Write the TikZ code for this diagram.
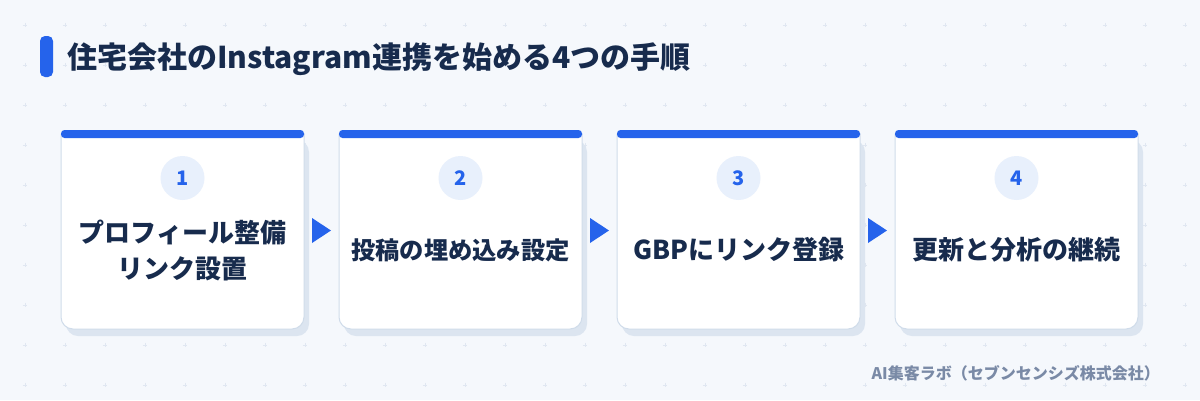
\documentclass[tikz,border=0pt]{standalone}
\usepackage{fontspec}
\setmainfont{Noto Sans CJK JP}
\usetikzlibrary{calc}
\definecolor{bgc}{HTML}{F5F8FC}
\definecolor{gridc}{HTML}{E0E7F1}
\definecolor{accent}{HTML}{2563EB}
\definecolor{navy}{HTML}{172B4D}
\definecolor{cardline}{HTML}{D0DCEA}
\definecolor{shadowc}{HTML}{DCE5F0}
\definecolor{circc}{HTML}{E8F0FC}
\definecolor{footc}{HTML}{7A8AA6}
\tikzset{
  x=1pt,y=-1pt,
  cardbody/.style={fill=white,draw=cardline,line width=1pt},
  cardshadow/.style={fill=shadowc},
  topbar/.style={fill=accent,rounded corners=3.5pt},
  numcirc/.style={circle,fill=circc,minimum size=44pt,inner sep=0pt,text=accent,font=\bfseries\fontsize{20}{24}\selectfont},
  steptext/.style={align=center,text=navy,font=\bfseries\fontsize{#1}{36}\selectfont,inner sep=0pt},
  arrowtri/.style={fill=accent},
}
\begin{document}
\begin{tikzpicture}
\useasboundingbox (0,0) rectangle (1200,400);
\fill[bgc] (0,0) rectangle (1200,400);
\foreach \i in {0,...,29}{
  \foreach \j in {0,...,9}{
    \draw[gridc,line width=0.9pt] ({25+40*\i-2.2},{25+40*\j}) -- ({25+40*\i+2.2},{25+40*\j})
      ({25+40*\i},{25+40*\j-2.2}) -- ({25+40*\i},{25+40*\j+2.2});
  }
}
% title
\fill[accent,rounded corners=5pt] (40,36) rectangle (53,77);
\node[anchor=base west,inner sep=0pt,text=navy,font=\bfseries\fontsize{30}{34}\selectfont] (title) at (67,68.5) {住宅会社のInstagram連携を始める4つの手順};
% cards
\foreach \k/\n/\s/\t in {0/1/26/{プロフィール整備\\リンク設置},1/2/24.3/{投稿の埋め込み設定},2/3/26/{GBPにリンク登録},3/4/26/{更新と分析の継続}}{
  \pgfmathsetmacro{\xl}{61+278*\k}
  \pgfmathsetmacro{\xr}{304+278*\k}
  \pgfmathsetmacro{\xc}{182.5+278*\k}
  \fill[cardshadow,rounded corners=12pt] ({\xl+5},140) -- ({\xl+5},{329+7}) -- ({\xr+5},{329+7}) -- ({\xr+5},140) -- cycle;
  \path[cardbody] (\xl,134) [rounded corners=12pt] -- (\xl,329) -- (\xr,329) [sharp corners] -- (\xr,134) -- cycle;
  \fill[topbar] (\xl,130) rectangle (\xr,138);
  \node[numcirc] (num\n) at (\xc,178) {\n};
  \node[steptext=\s] (text\n) at (\xc,250) {\t};
}
% arrows
\foreach \k in {0,1,2}{
  \pgfmathsetmacro{\ax}{312+278*\k}
  \fill[arrowtri] (\ax,218) -- ({\ax+19},230.5) -- (\ax,243) -- cycle;
}
\node[anchor=east,inner sep=0pt,text=footc,font=\bfseries\fontsize{16}{18}\selectfont] (footer) at (1160,373) {AI集客ラボ（セブンセンシズ株式会社）};
\end{tikzpicture}
\end{document}
